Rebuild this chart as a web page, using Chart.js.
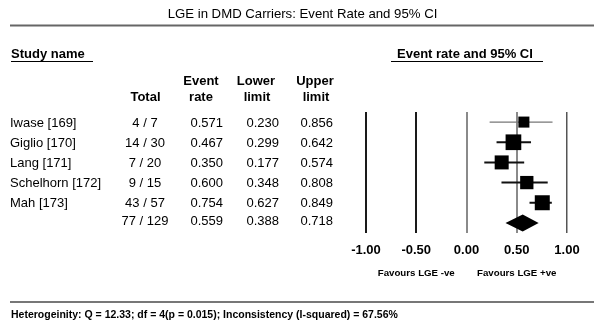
<!DOCTYPE html>
<html>
<head>
<meta charset="utf-8">
<title>LGE in DMD Carriers</title>
<script src="https://cdn.jsdelivr.net/npm/chart.js@4/dist/chart.umd.min.js"></script>
<style>
    html, body { margin: 0; padding: 0; background: #fff; }
    #forest-wrap { position: relative; width: 600px; height: 326px; }
</style>
</head>
<body>
<div id="forest-wrap">
    <canvas id="forest-chart" width="600" height="326"></canvas>
</div>
<script>
// study rows
const studyNames = ['Iwase [169]', 'Giglio [170]', 'Lang [171]', 'Schelhorn [172]', 'Mah [173]'];
const studyEvents = [4, 14, 7, 9, 43];
const studyTotals = [7, 30, 20, 15, 57];
const eventRates = [0.571, 0.467, 0.350, 0.600, 0.754];
const lowerLimits = [0.230, 0.299, 0.177, 0.348, 0.627];
const upperLimits = [0.856, 0.642, 0.574, 0.808, 0.849];

// pooled (random effects) row
const pooledEvents = 77;
const pooledTotal = 129;
const pooledRate = 0.559;
const pooledLower = 0.388;
const pooledUpper = 0.718;

const xTicks = [-1, -0.5, 0, 0.5, 1];
const favourLabels = ['Favours LGE -ve', 'Favours LGE +ve'];
const favourAt = [-0.5, 0.5];
const heterogeneityText = 'Heterogeinity: Q = 12.33; df = 4(p = 0.015); Inconsistency (I-squared) = 67.56%';

// look
const markerRadius = [7.8, 11.1, 9.9, 9.4, 10.6];
const ciColors = ['#777', '#111', '#111', '#111', '#111'];
const ciWidths = [1.2, 2, 2, 2, 2];
const gridColors = ['#1a1a1a', '#1a1a1a', '#8a8a8a', '#8a8a8a', '#555'];
const gridWidths = [2, 2, 2, 2, 1.5];

const FONT = '"Liberation Sans", Arial, sans-serif';
Chart.defaults.font.family = FONT;

const canvas = document.getElementById('forest-chart');
const pooledRow = studyNames.length + 1;

function rowText(ctx, text, x, y, align) {
    ctx.textAlign = align;
    ctx.fillText(text, x, y);
}

function hline(ctx, x1, x2, y, color, width) {
    ctx.save();
    ctx.strokeStyle = color;
    ctx.lineWidth = width;
    ctx.beginPath();
    ctx.moveTo(x1, y);
    ctx.lineTo(x2, y);
    ctx.stroke();
    ctx.restore();
}

// summary diamond, placed with the chart's own scales
const diamondPlugin = {
    id: 'diamond',
    afterDatasetsDraw(chart) {
        const { ctx, scales: { x, y } } = chart;
        const cy = y.getPixelForValue(pooledRow);
        const half = 8.5;
        ctx.save();
        ctx.fillStyle = '#000';
        ctx.beginPath();
        ctx.moveTo(x.getPixelForValue(pooledLower), cy);
        ctx.lineTo(x.getPixelForValue(pooledRate), cy - half);
        ctx.lineTo(x.getPixelForValue(pooledUpper), cy);
        ctx.lineTo(x.getPixelForValue(pooledRate), cy + half);
        ctx.closePath();
        ctx.fill();
        ctx.restore();
    }
};

// title, study table and footer
const tablePlugin = {
    id: 'forestTable',
    afterDraw(chart) {
        const { ctx, scales: { x, y } } = chart;
        ctx.save();
        ctx.fillStyle = '#000';
        ctx.textBaseline = 'middle';

        ctx.font = '13.2px ' + FONT;
        rowText(ctx, 'LGE in DMD Carriers: Event Rate and 95% CI', 302.5, 14.5, 'center');
        hline(ctx, 10, 594, 25.5, '#666', 2);

        ctx.font = 'bold 13px ' + FONT;
        rowText(ctx, 'Study name', 11, 54.5, 'left');
        hline(ctx, 11, 93, 61.5, '#000', 1);
        rowText(ctx, 'Event rate and 95% CI', 397, 54.5, 'left');
        hline(ctx, 391, 543, 61.5, '#000', 1);

        rowText(ctx, 'Event', 201, 81, 'center');
        rowText(ctx, 'Lower', 256, 81, 'center');
        rowText(ctx, 'Upper', 315, 81, 'center');
        rowText(ctx, 'Total', 145.5, 97, 'center');
        rowText(ctx, 'rate', 201, 97, 'center');
        rowText(ctx, 'limit', 257, 97, 'center');
        rowText(ctx, 'limit', 316, 97, 'center');

        ctx.font = '13px ' + FONT;
        studyNames.forEach((name, i) => {
            const ry = y.getPixelForValue(i + 1) + 1;
            rowText(ctx, name, 10, ry, 'left');
            rowText(ctx, studyEvents[i] + ' / ' + studyTotals[i], 145, ry, 'center');
            rowText(ctx, eventRates[i].toFixed(3), 223, ry, 'right');
            rowText(ctx, lowerLimits[i].toFixed(3), 279, ry, 'right');
            rowText(ctx, upperLimits[i].toFixed(3), 333, ry, 'right');
        });
        const py = y.getPixelForValue(pooledRow) - 1;
        rowText(ctx, pooledEvents + ' / ' + pooledTotal, 145, py, 'center');
        rowText(ctx, pooledRate.toFixed(3), 223, py, 'right');
        rowText(ctx, pooledLower.toFixed(3), 279, py, 'right');
        rowText(ctx, pooledUpper.toFixed(3), 333, py, 'right');

        ctx.font = 'bold 9.7px ' + FONT;
        favourLabels.forEach((label, i) => {
            rowText(ctx, label, x.getPixelForValue(favourAt[i]), 273, 'center');
        });

        hline(ctx, 10, 594, 302, '#777', 2);
        ctx.font = 'bold 10.5px ' + FONT;
        rowText(ctx, heterogeneityText, 11, 315.5, 'left');
        ctx.restore();
    }
};

const ciDatasets = studyNames.map((name, i) => ({
    label: name + ' CI',
    data: [{ x: lowerLimits[i], y: i + 1 }, { x: upperLimits[i], y: i + 1 }],
    showLine: true,
    borderColor: ciColors[i],
    borderWidth: ciWidths[i],
    pointRadius: 0,
    order: 2
}));

new Chart(canvas, {
    type: 'scatter',
    data: {
        datasets: [
            {
                label: 'Event rate',
                data: eventRates.map((r, i) => ({ x: r, y: i + 1 })),
                pointStyle: 'rect',
                pointRadius: markerRadius,
                backgroundColor: '#000',
                borderWidth: 0,
                order: 1
            },
            ...ciDatasets
        ]
    },
    options: {
        responsive: false,
        animation: false,
        events: [],
        layout: { padding: { left: 366, right: 33, top: 112, bottom: 53 } },
        plugins: {
            legend: { display: false },
            tooltip: { enabled: false }
        },
        scales: {
            x: {
                type: 'linear',
                min: -1,
                max: 1,
                afterFit(scale) { scale.height = 40; },
                afterBuildTicks(scale) { scale.ticks = xTicks.map(v => ({ value: v })); },
                ticks: {
                    color: '#000',
                    padding: 10,
                    font: { size: 13, weight: 'bold' },
                    maxRotation: 0,
                    autoSkip: false,
                    callback: v => v.toFixed(2)
                },
                grid: {
                    drawTicks: false,
                    color: c => gridColors[c.index],
                    lineWidth: c => gridWidths[c.index]
                },
                border: { display: false }
            },
            y: {
                type: 'linear',
                display: false,
                reverse: true,
                min: 0.5,
                max: pooledRow + 0.5
            }
        }
    },
    plugins: [diamondPlugin, tablePlugin]
});
</script>
</body>
</html>
